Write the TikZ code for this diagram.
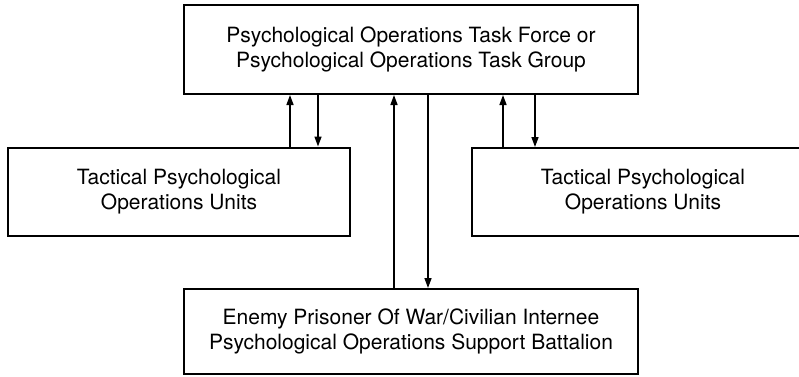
\documentclass[tikz,border=0pt]{standalone}
\usepackage{fontspec}
\setmainfont{TeX Gyre Heros}
\usepackage{tikz}
\usetikzlibrary{positioning}
\usetikzlibrary{arrows.meta}

\begin{document}
\begin{tikzpicture}[x=1pt, y=-1pt]
\useasboundingbox (0, 0) rectangle (799, 376);
\clip (0, 0) rectangle (799, 376);

\begin{scope}[every node/.style={draw, line width=2pt, align=center,
                                  font=\fontsize{21pt}{25pt}\selectfont}]
  \node[minimum width=454pt, minimum height=89pt] (tf) at (411, 49.5)
    {Psychological Operations Task Force or\\Psychological Operations Task Group};
  \node[minimum width=342pt, minimum height=88pt] (tacL) at (179, 191.5)
    {Tactical Psychological\\Operations Units};
  \node[minimum width=342pt, minimum height=88pt] (tacR) at (643, 192)
    {Tactical Psychological\\Operations Units};
  \node[minimum width=454pt, minimum height=85pt] (epw) at (411, 331.5)
    {Enemy Prisoner Of War/Civilian Internee\\Psychological Operations Support Battalion};
\end{scope}

\begin{scope}
  \coordinate (c1) at (290, 0);
  \coordinate (c2) at (318, 0);
  \coordinate (c3) at (394, 0);
  \coordinate (c4) at (428, 0);
  \coordinate (c5) at (503, 0);
  \coordinate (c6) at (535, 0);
\end{scope}

\begin{scope}[>={Triangle[length=10pt, width=7pt]},
              every edge/.style={draw, line width=1.5pt}]
    \path [->] (tacL.north -| c1) edge (tf.south -| c1);
    \path [->] (tf.south -| c2) edge (tacL.north -| c2);
    \path [->] (epw.north -| c3) edge (tf.south -| c3);
    \path [->] (tf.south -| c4) edge (epw.north -| c4);
    \path [->] (tacR.north -| c5) edge (tf.south -| c5);
    \path [->] (tf.south -| c6) edge (tacR.north -| c6);
\end{scope}
\end{tikzpicture}
\end{document}
